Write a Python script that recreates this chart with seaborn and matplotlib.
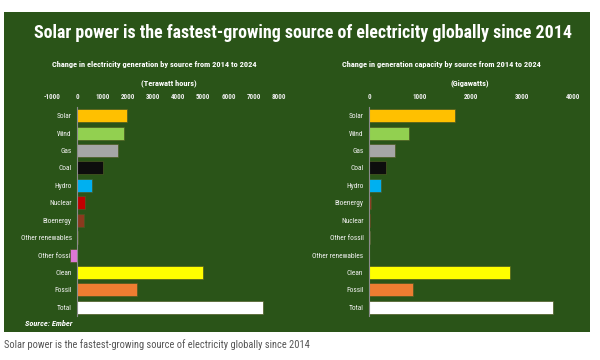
import matplotlib
matplotlib.use("Agg")
import matplotlib.pyplot as plt
import seaborn as sns
import pandas as pd
from matplotlib.patches import Rectangle
from matplotlib import font_manager

# ---- data ----
gen_sources = ["Solar", "Wind", "Gas", "Coal", "Hydro", "Nuclear", "Bioenergy",
               "Other renewables", "Other fossil", "Clean", "Fossil", "Total"]
gen_values = [1980, 1850, 1620, 1020, 570, 290, 280, 15, -280, 4990, 2360, 7350]
gen_colors = ["#FFC000", "#92D050", "#A6A6A6", "#0D0D0D", "#00B0F0", "#C00000",
              "#8B3A1E", "#70AD47", "#DD77D5", "#FFFF00", "#ED7D31", "#FFFFFF"]
gen_ticks = [-1000, 0, 1000, 2000, 3000, 4000, 5000, 6000, 7000, 8000]

cap_sources = ["Solar", "Wind", "Gas", "Coal", "Hydro", "Bioenergy", "Nuclear",
               "Other fossil", "Other renewables", "Clean", "Fossil", "Total"]
cap_values = [1690, 780, 510, 330, 230, 30, 10, 20, 5, 2760, 860, 3610]
cap_colors = ["#FFC000", "#92D050", "#A6A6A6", "#0D0D0D", "#00B0F0", "#8B3A1E",
              "#C00000", "#A6A6A6", "#70AD47", "#FFFF00", "#ED7D31", "#FFFFFF"]
cap_ticks = [0, 1000, 2000, 3000, 4000]

title = "Solar power is the fastest-growing source of electricity globally since 2014"
sub_left = "Change in electricity generation by source from 2014 to 2024"
sub_right = "Change in generation capacity by source from 2014 to 2024"
unit_left = "(Terawatt hours)"
unit_right = "(Gigawatts)"
source_txt = "Source: Ember"
caption = "Solar power is the fastest-growing source of electricity globally since 2014"

BG = "#2A5418"


def pick_font(cands):
    for c in cands:
        try:
            font_manager.findfont(font_manager.FontProperties(family=c),
                                  fallback_to_default=False)
            return c
        except Exception:
            continue
    return "DejaVu Sans"


FONT = pick_font(["Roboto Condensed", "Liberation Sans Narrow", "Open Sans Condensed",
                  "Noto Sans Condensed", "Roboto", "DejaVu Sans"])

sns.set_style("white")
plt.rcParams["font.family"] = [FONT, "DejaVu Sans"]

fig = plt.figure(figsize=(6, 3.6), dpi=100)
fig.patch.set_facecolor("white")
W, H = 600, 360
fig.patches.append(Rectangle((4 / W, 1 - 332 / H), 586 / W, 320 / H,
                             transform=fig.transFigure, facecolor=BG,
                             edgecolor="none", zorder=-10))


def panel(left_px, right_px, sources, values, colors, ticks, xlim):
    top, bottom = 107, 316
    ax = fig.add_axes([left_px / W, 1 - bottom / H, (right_px - left_px) / W,
                       (bottom - top) / H])
    ax.set_facecolor("none")
    df = pd.DataFrame({"source": sources, "value": values})
    sns.barplot(data=df, x="value", y="source", hue="source", order=sources,
                hue_order=sources, palette=dict(zip(sources, colors)),
                orient="h", legend=False, width=0.75, ax=ax,
                edgecolor="#4a5a22", linewidth=0.5, saturation=1)
    ax.set_xlim(*xlim)
    ax.set_ylim(len(sources) - 0.5, -0.5)
    ax.set_xticks(ticks)
    ax.set_xticklabels([str(t) for t in ticks], fontweight="bold")
    ax.set_yticks(range(len(sources)))
    ax.set_yticklabels(sources, fontweight="bold")
    ax.xaxis.tick_top()
    ax.tick_params(axis="x", length=0, pad=4, labelsize=5, labelcolor="#EDEDED")
    ax.tick_params(axis="y", length=0, pad=4, labelsize=5.3, labelcolor="#F2F2F2")
    ax.set_xlabel("")
    ax.set_ylabel("")
    for s in ["top", "right", "bottom"]:
        ax.spines[s].set_visible(False)
    ax.spines["left"].set_position(("data", 0))
    ax.spines["left"].set_color("#8C8C8C")
    ax.spines["left"].set_linewidth(0.8)
    ax.grid(False)
    return ax


panel(52, 279, gen_sources, gen_values, gen_colors, gen_ticks, (-1000, 8000))
panel(369, 573, cap_sources, cap_values, cap_colors, cap_ticks, (0, 4000))

fig.text(303 / W, 1 - 33 / H, title, ha="center", va="center", color="white",
         fontsize=12.9, fontweight="bold")
sub_fs = 6
fig.text(154 / W, 1 - 65 / H, sub_left, ha="center", va="center", color="white",
         fontsize=sub_fs, fontweight="bold")
fig.text(441 / W, 1 - 65 / H, sub_right, ha="center", va="center", color="white",
         fontsize=sub_fs, fontweight="bold")
fig.text(169 / W, 1 - 83 / H, unit_left, ha="center", va="center", color="white",
         fontsize=sub_fs, fontweight="bold")
fig.text(470 / W, 1 - 83 / H, unit_right, ha="center", va="center", color="white",
         fontsize=sub_fs, fontweight="bold")
fig.text(25 / W, 1 - 324 / H, source_txt, ha="left", va="center", color="white",
         fontsize=6, fontweight="bold", style="italic")
fig.text(4 / W, 1 - 345 / H, caption, ha="left", va="center", color="#555555",
         fontsize=7.5)

fig.savefig("out.png", dpi=100, facecolor=fig.get_facecolor())
